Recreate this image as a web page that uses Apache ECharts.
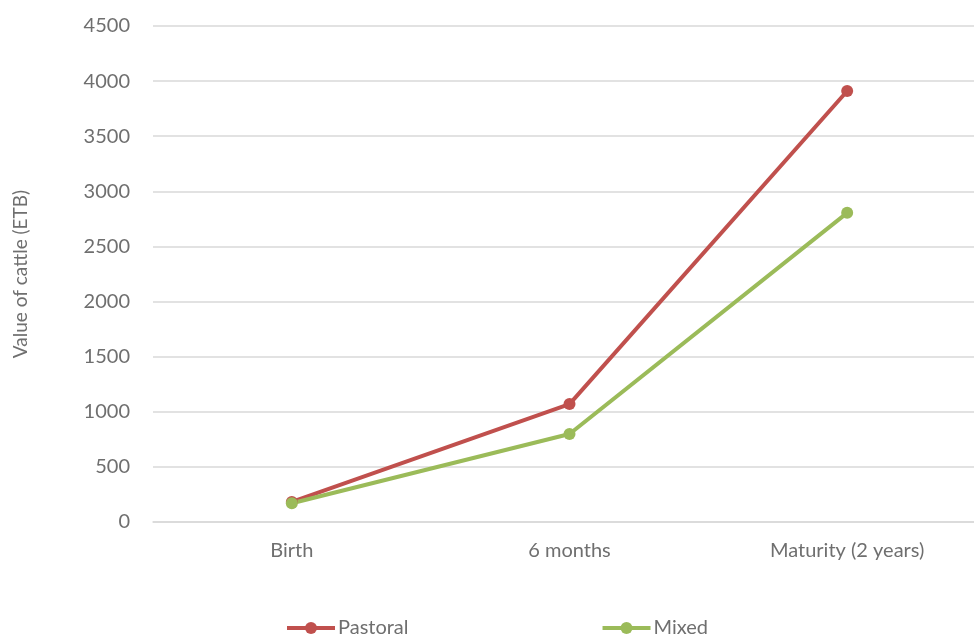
<!DOCTYPE html>
<html>
<head>
<meta charset="utf-8">
<style>
  html, body { margin: 0; padding: 0; background: #fff; }
  #chart { width: 974px; height: 635px; }
</style>
<script src="https://cdn.jsdelivr.net/npm/echarts@6/dist/echarts.min.js"></script>
</head>
<body>
<div id="chart"></div>
<script>
// Value of cattle at each age stage, by production system (ETB)
const stages = ['Birth', '6 months', 'Maturity (2 years)'];
const pastoral = [182, 1070, 3910];
const mixed = [170, 798, 2805];
const seriesNames = ['Pastoral', 'Mixed'];

const textColor = '#6f6f6f';
const fontFamily = 'Lato, "Open Sans", sans-serif';

const chart = echarts.init(document.getElementById('chart'), null, { renderer: 'canvas' });

function lineSeries(name, data, color) {
  return {
    name: name,
    type: 'line',
    data: data,
    symbol: 'circle',
    symbolSize: 12,
    lineStyle: { color: color, width: 4 },
    itemStyle: { color: color },
    animation: false
  };
}

chart.setOption({
  backgroundColor: '#fff',
  // plot area runs a little past the right edge of the canvas
  grid: {
    left: 153, width: 833, top: 26, bottom: 113,
    containLabel: false, outerBoundsMode: 'none'
  },
  legend: {
    top: 613,
    left: 280,
    itemGap: 192,
    itemWidth: 48,
    itemHeight: 15,
    lineStyle: { width: 4 },
    textStyle: { color: textColor, fontSize: 20, fontFamily: fontFamily, padding: [0, 0, 0, -2] },
    data: seriesNames
  },
  xAxis: {
    type: 'category',
    data: stages,
    boundaryGap: true,
    axisLine: { show: true, lineStyle: { color: '#d9d9d9', width: 1.5 } },
    axisTick: { show: false },
    axisLabel: { color: textColor, fontSize: 20, fontFamily: fontFamily, margin: 19 }
  },
  yAxis: {
    type: 'value',
    min: 0,
    max: 4500,
    interval: 500,
    name: 'Value of cattle (ETB)',
    nameLocation: 'middle',
    nameGap: 123,
    nameRotate: 90,
    nameTextStyle: { color: textColor, fontSize: 19, fontFamily: fontFamily },
    axisLine: { show: false },
    axisTick: { show: false },
    splitLine: { lineStyle: { color: '#d9d9d9', width: 1.5 } },
    axisLabel: {
      color: textColor, fontSize: 20, fontFamily: fontFamily, margin: 23,
      formatter: (v) => String(v)
    }
  },
  series: [
    lineSeries(seriesNames[0], pastoral, '#C0504D'),
    lineSeries(seriesNames[1], mixed, '#9BBB59')
  ]
});
</script>
</body>
</html>
